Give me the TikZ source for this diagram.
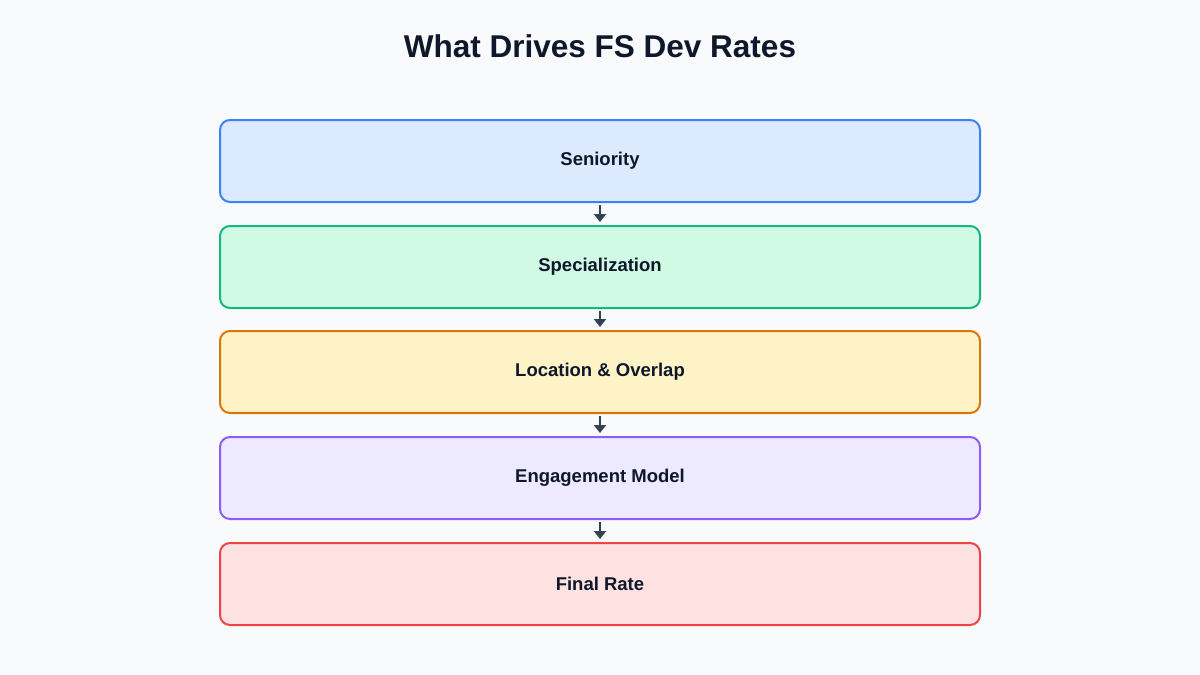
\documentclass[tikz,border=0pt]{standalone}
\usepackage{fontspec}
\setmainfont{Liberation Sans}
\usetikzlibrary{arrows.meta}
\definecolor{bg}{HTML}{F8FAFC}
\definecolor{ink}{HTML}{0F172A}
\definecolor{arr}{HTML}{334155}
\definecolor{f1}{HTML}{DBEAFE}\definecolor{s1}{HTML}{3B82F6}
\definecolor{f2}{HTML}{D1FAE5}\definecolor{s2}{HTML}{10B981}
\definecolor{f3}{HTML}{FEF3C7}\definecolor{s3}{HTML}{D97706}
\definecolor{f4}{HTML}{EDE9FE}\definecolor{s4}{HTML}{8B5CF6}
\definecolor{f5}{HTML}{FEE2E2}\definecolor{s5}{HTML}{EF4444}
\tikzset{
  stage/.style={draw=#1, line width=2pt, rounded corners=10pt, minimum width=760pt, minimum height=82pt, inner sep=0pt, text=ink, font=\fontsize{18.5}{22}\selectfont\bfseries},
  flow/.style={draw=arr, line width=2pt, -{Triangle[length=8pt,width=12pt]}},
}
\begin{document}
\begin{tikzpicture}[x=1pt,y=-1pt]
\fill[bg] (0,0) rectangle (1200,675);
\useasboundingbox (0,0) rectangle (1200,675);
\node[text=ink, font=\fontsize{31.5}{36}\selectfont\bfseries] (title) at (600,46) {What Drives FS Dev Rates};
\node[stage=s1, fill=f1] (a) at (600,161) {Seniority};
\node[stage=s2, fill=f2] (b) at (600,267) {Specialization};
\node[stage=s3, fill=f3] (c) at (600,372) {Location \& Overlap};
\node[stage=s4, fill=f4] (d) at (600,478) {Engagement Model};
\node[stage=s5, fill=f5] (e) at (600,584) {Final Rate};
\draw[flow] ([yshift=-2pt]a.south) -- ([yshift=3pt]b.north);
\draw[flow] ([yshift=-2pt]b.south) -- ([yshift=3pt]c.north);
\draw[flow] ([yshift=-2pt]c.south) -- ([yshift=3pt]d.north);
\draw[flow] ([yshift=-2pt]d.south) -- ([yshift=3pt]e.north);
\end{tikzpicture}
\end{document}
